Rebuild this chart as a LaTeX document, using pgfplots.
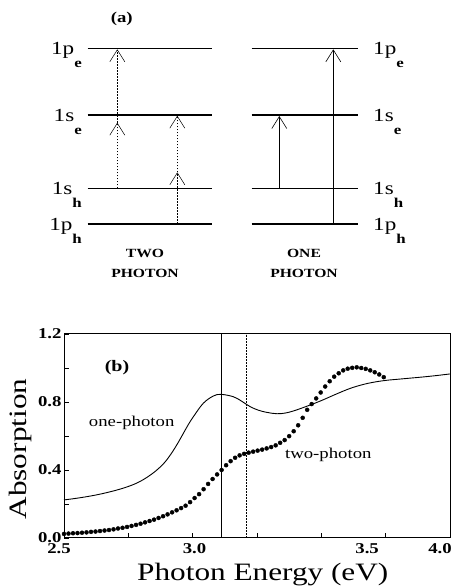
\documentclass[border=0pt]{standalone}
\usepackage{fontspec}
\setmainfont{Liberation Serif}[FakeStretch=1.25]
\usepackage{pgfplots}
\pgfplotsset{compat=1.18}
\usetikzlibrary{arrows.meta}
\newcommand\lev[2]{{\fontsize{18.5}{18.5}\selectfont 1#1\raisebox{-13pt}{\fontsize{13.5}{13.5}\selectfont\bfseries #2}}}
\begin{document}
\begin{tikzpicture}[x=1pt,y=1pt]
\path[use as bounding box] (0,0) rectangle (459,586);
% ---------- panel (a) ----------
\begin{axis}[at={(0pt,286pt)}, anchor=south west, scale only axis,
  width=459pt, height=300pt, xmin=0, xmax=459, ymin=0, ymax=300,
  y dir=reverse, hide axis, clip=false]
\addplot[line width=1.4pt] coordinates {(87.7,48.3) (212.3,48.3)};
\addplot[line width=1.4pt] coordinates {(87.7,115) (212.3,115)};
\addplot[line width=1.4pt] coordinates {(87.7,188.3) (212.3,188.3)};
\addplot[line width=1.4pt] coordinates {(87.7,224) (212.3,224)};
\addplot[line width=1.4pt] coordinates {(251.7,48.3) (358.3,48.3)};
\addplot[line width=1.4pt] coordinates {(251.7,115) (358.3,115)};
\addplot[line width=1.4pt] coordinates {(251.7,188.3) (358.3,188.3)};
\addplot[line width=1.4pt] coordinates {(251.7,224) (358.3,224)};
% two-photon arrows
\addplot[line width=0.5pt, dash pattern=on 1.6pt off 1.4pt, -{Straight Barb[length=12pt,width=15pt]}] coordinates {(117.3,188.3) (117.3,122.7)};
\addplot[line width=0.5pt, dash pattern=on 1.6pt off 1.4pt, -{Straight Barb[length=12pt,width=15pt]}] coordinates {(117.3,122.7) (117.3,49.3)};
\addplot[line width=0.5pt, dash pattern=on 1.6pt off 1.4pt, -{Straight Barb[length=12pt,width=15pt]}] coordinates {(177.3,224) (177.3,172.3)};
\addplot[line width=0.5pt, dash pattern=on 1.6pt off 1.4pt, -{Straight Barb[length=12pt,width=15pt]}] coordinates {(177.3,172.3) (177.3,115.7)};
% one-photon arrows
\addplot[line width=0.6pt, -{Straight Barb[length=12pt,width=15pt]}] coordinates {(279.3,188.3) (279.3,116)};
\addplot[line width=0.6pt, -{Straight Barb[length=12pt,width=15pt]}] coordinates {(333.3,224) (333.3,49.3)};
% labels
\node[anchor=base east, inner sep=0pt] at (axis cs:82,55) {\lev{p}{e}};
\node[anchor=base east, inner sep=0pt] at (axis cs:82,121.7) {\lev{s}{e}};
\node[anchor=base east, inner sep=0pt] at (axis cs:82,195) {\lev{s}{h}};
\node[anchor=base east, inner sep=0pt] at (axis cs:82,230.7) {\lev{p}{h}};
\node[anchor=base west, inner sep=0pt] at (axis cs:373,55) {\lev{p}{e}};
\node[anchor=base west, inner sep=0pt] at (axis cs:373,121.7) {\lev{s}{e}};
\node[anchor=base west, inner sep=0pt] at (axis cs:373,195) {\lev{s}{h}};
\node[anchor=base west, inner sep=0pt] at (axis cs:373,230.7) {\lev{p}{h}};
\node[font=\bfseries\fontsize{15}{15}\selectfont] at (axis cs:121.7,19) {(a)};
\node[font=\bfseries\fontsize{12.5}{12.5}\selectfont] at (axis cs:145,253) {TWO};
\node[font=\bfseries\fontsize{12.5}{12.5}\selectfont] at (axis cs:145,273) {PHOTON};
\node[font=\bfseries\fontsize{12.5}{12.5}\selectfont] at (axis cs:304,253) {ONE};
\node[font=\bfseries\fontsize{12.5}{12.5}\selectfont] at (axis cs:304,273) {PHOTON};
\end{axis}
% ---------- panel (b) ----------
\begin{axis}[at={(64pt,48pt)}, anchor=south west, scale only axis,
  width=386pt, height=204pt,
  xmin=2.5, xmax=4.0, ymin=0, ymax=1.2,
  xtick={2.5,3.0,3.5,4.0}, xticklabels={},
  extra x ticks={2.5,3.007,3.678,3.961},
  extra x tick labels={\hspace*{-10pt}2.5,3.0,3.5,4.0},
  extra x tick style={major tick length=0pt},
  ytick={0,0.4,0.8,1.2},
  minor xtick={2.75,3.25,3.75}, minor ytick={0.2,0.6,1.0},
  tick align=inside, tick pos=left,
  major tick length=5pt, minor tick length=5pt,
  axis line style={line width=1pt},
  every tick/.style={black, line width=0.8pt},
  /pgf/number format/assume math mode=true,
  /pgf/number format/fixed, /pgf/number format/fixed zerofill,
  /pgf/number format/precision=1,
  ticklabel style={font=\bfseries\fontsize{15}{15}\selectfont},
  xticklabel style={yshift=-2pt},
  yticklabel style={xshift=1pt},
  xlabel={Photon Energy (eV)},
  ylabel={Absorption},
  xlabel style={font=\fontsize{25}{25}\selectfont, at={(axis description cs:0.515,-0.2093)}, anchor=base},
  ylabel style={font=\fontsize{25}{25}\selectfont, at={(axis description cs:-0.0959,0.436)}, anchor=base},
  clip=false]
\addplot[line width=0.6pt] coordinates {(3.11,0) (3.11,1.2)};
\addplot[line width=0.5pt, dash pattern=on 1.6pt off 1.4pt] coordinates {(3.21,0) (3.21,1.2)};
\addplot[line width=0.9pt, smooth, tension=0.6] coordinates {
(2.50,0.224) (2.55,0.234) (2.614,0.250) (2.68,0.272) (2.744,0.300) (2.796,0.333)
(2.847,0.383) (2.886,0.436) (2.912,0.486) (2.938,0.547) (2.964,0.616) (2.983,0.667)
(3.003,0.714) (3.041,0.792) (3.080,0.835) (3.11,0.845) (3.158,0.831) (3.19,0.805) (3.223,0.773)
(3.255,0.752) (3.288,0.739) (3.327,0.731) (3.36,0.735) (3.391,0.747) (3.42,0.762)
(3.456,0.782) (3.49,0.802) (3.521,0.822) (3.56,0.848) (3.612,0.88) (3.66,0.902)
(3.702,0.916) (3.75,0.927) (3.806,0.935) (3.85,0.941) (3.90,0.948) (3.95,0.956) (4.00,0.965)};
\addplot[only marks, mark=*, mark size=2pt] coordinates {
(2.5000,0.024) (2.5175,0.026) (2.5350,0.028) (2.5525,0.029) (2.5700,0.031) (2.5875,0.033)
(2.6050,0.036) (2.6225,0.038) (2.6400,0.041) (2.6575,0.044) (2.6750,0.047) (2.6925,0.051)
(2.7100,0.056) (2.7275,0.060) (2.7450,0.065) (2.7625,0.071) (2.7800,0.077) (2.7975,0.084)
(2.8150,0.092) (2.8325,0.100) (2.8500,0.108) (2.8675,0.118) (2.8850,0.128) (2.9025,0.139)
(2.9200,0.151) (2.9375,0.163) (2.9550,0.176) (2.9725,0.190) (2.9900,0.211) (3.0075,0.235)
(3.0250,0.258) (3.0425,0.287) (3.0600,0.318) (3.0775,0.347) (3.0950,0.374) (3.1125,0.400)
(3.1300,0.428) (3.1475,0.452) (3.1650,0.472) (3.1825,0.486) (3.2000,0.495) (3.2175,0.502)
(3.2350,0.508) (3.2525,0.514) (3.2700,0.520) (3.2875,0.527) (3.3050,0.535) (3.3225,0.545)
(3.3400,0.560) (3.3575,0.576) (3.3750,0.599) (3.3925,0.628) (3.4100,0.663) (3.4275,0.707)
(3.4450,0.754) (3.4625,0.788) (3.4800,0.821) (3.4975,0.856) (3.5150,0.891) (3.5325,0.922)
(3.5500,0.949) (3.5675,0.969) (3.5850,0.986) (3.6025,0.996) (3.6200,1.001) (3.6375,1.004)
(3.6550,1.000) (3.6725,0.995) (3.6900,0.986) (3.7075,0.975) (3.7250,0.962) (3.7425,0.946)};
\node[font=\bfseries\fontsize{16}{16}\selectfont] at (axis cs:2.706,1.0) {(b)};
\node[font=\fontsize{15}{15}\selectfont, anchor=base] at (axis cs:2.763,0.655) {one-photon};
\node[font=\fontsize{15}{15}\selectfont, anchor=base] at (axis cs:3.527,0.465) {two-photon};
\end{axis}
\end{tikzpicture}
\end{document}
